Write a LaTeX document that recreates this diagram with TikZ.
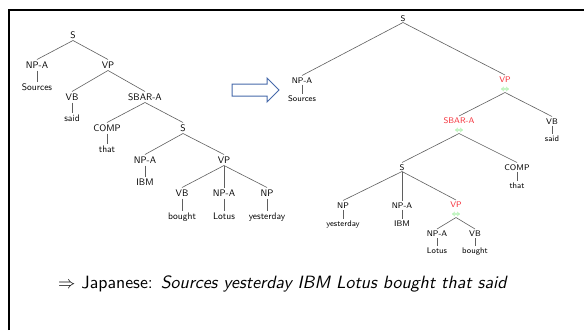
\documentclass[tikz,border=0pt]{standalone}
\usepackage{fontspec}
\newfontfamily\slidesans{lmsans10-regular.otf}[ItalicFont=lmsans10-oblique.otf]
\definecolor{tred}{RGB}{245,50,60}
\definecolor{tgreen}{RGB}{90,225,90}
\definecolor{tline}{RGB}{95,95,95}
\definecolor{tarrow}{RGB}{70,105,170}
\tikzset{
  lt/.style={font=\sffamily\fontsize{9.5}{10}\selectfont, inner sep=0pt, text height=7pt, text depth=0pt, outer sep=2pt},
  rt/.style={font=\sffamily\fontsize{8.2}{9}\selectfont, inner sep=0pt, text height=6pt, text depth=0pt, outer sep=1.5pt},
  hl/.style={text=tred},
  swp/.style={font=\fontsize{8.5}{8.5}\selectfont, text=tgreen, inner sep=0pt, outer sep=1pt},
  edge/.style={draw=tline, line width=0.6pt},
}
\begin{document}
\begin{tikzpicture}[x=1pt,y=-1pt]
\useasboundingbox (0,0) rectangle (584,330);
% frame
\draw[line width=2.5pt] (9,330) -- (9,10) -- (584,10);
% left tree
\node[lt] (lS) at (73,35) {S};
\node[lt] (lNPA) at (37,65) {NP-A};
\node[lt] (lSources) at (37,87) {Sources};
\node[lt] (lVP) at (108,65) {VP};
\node[lt] (lVB) at (72,97) {VB};
\node[lt] (lsaid) at (72,118) {said};
\node[lt] (lSBAR) at (145,97) {SBAR-A};
\node[lt] (lCOMP) at (107,128) {COMP};
\node[lt] (lthat) at (107,149) {that};
\node[lt] (lS2) at (183,128) {S};
\node[lt] (lNPA2) at (145,160) {NP-A};
\node[lt] (lIBM) at (145,182) {IBM};
\node[lt] (lVP2) at (224,160) {VP};
\node[lt] (lVB2) at (182,193) {VB};
\node[lt] (lbought) at (182,216) {bought};
\node[lt] (lNPA3) at (224,193) {NP-A};
\node[lt] (lLotus) at (224,216) {Lotus};
\node[lt] (lNP) at (267,193) {NP};
\node[lt] (lyest) at (267,216) {yesterday};
\foreach \a/\b in {lS/lNPA,lS/lVP,lNPA/lSources,lVP/lVB,lVP/lSBAR,lVB/lsaid,
  lSBAR/lCOMP,lSBAR/lS2,lCOMP/lthat,lS2/lNPA2,lS2/lVP2,lNPA2/lIBM,
  lVP2/lVB2,lVP2/lNPA3,lVP2/lNP,lVB2/lbought,lNPA3/lLotus,lNP/lyest}
  \draw[edge] (\a.south) -- (\b.north);
% block arrow
\draw[draw=tarrow, line width=1pt, fill=white, line join=miter]
  (232,84) -- (267,84) -- (267,78) -- (279,90) -- (267,102) -- (267,96) -- (232,96) -- cycle;
% right tree
\node[rt] (rS) at (403,18) {S};
\node[rt] (rNPA) at (302,80) {NP-A};
\node[rt] (rSources) at (302,98) {Sources};
\node[rt,hl] (rVP) at (505,79.5) {VP};
\node[swp] (rVPx) at (505,90) {$\Leftrightarrow$};
\node[rt,hl] (rSBAR) at (459,120.5) {SBAR-A};
\node[swp] (rSBARx) at (459,131) {$\Leftrightarrow$};
\node[rt] (rVB) at (552,121) {VB};
\node[rt] (rsaid) at (552,138) {said};
\node[rt] (rS2) at (402,167) {S};
\node[rt] (rCOMP) at (517,167) {COMP};
\node[rt] (rthat) at (517,185) {that};
\node[rt] (rNP) at (343,205) {NP};
\node[rt] (ryest) at (343,223) {yesterday};
\node[rt] (rNPA2) at (402,205) {NP-A};
\node[rt] (rIBM) at (402,223) {IBM};
\node[rt,hl] (rVP2) at (456,204.5) {VP};
\node[swp] (rVP2x) at (456,215) {$\Leftrightarrow$};
\node[rt] (rNPA3) at (437,233.5) {NP-A};
\node[rt] (rLotus) at (437,250.5) {Lotus};
\node[rt] (rVB2) at (475,233.5) {VB};
\node[rt] (rbought) at (475,250.5) {bought};
\foreach \a/\b in {rS/rNPA,rS/rVP,rNPA/rSources,rVPx/rSBAR,rVPx/rVB,rVB/rsaid,
  rSBARx/rS2,rSBARx/rCOMP,rCOMP/rthat,rS2/rNP,rS2/rNPA2,rS2/rVP2,rNP/ryest,rNPA2/rIBM,
  rVP2x/rNPA3,rVP2x/rVB2,rNPA3/rLotus,rVB2/rbought}
  \draw[edge] (\a.south) -- (\b.north);
% bottom text
\node[anchor=base west, inner sep=0pt, font=\slidesans\fontsize{17.8}{19}\selectfont] (jp) at (58,288)
  {$\Rightarrow$ Japanese: \itshape Sources yesterday IBM Lotus bought that said};
\end{tikzpicture}
\end{document}
